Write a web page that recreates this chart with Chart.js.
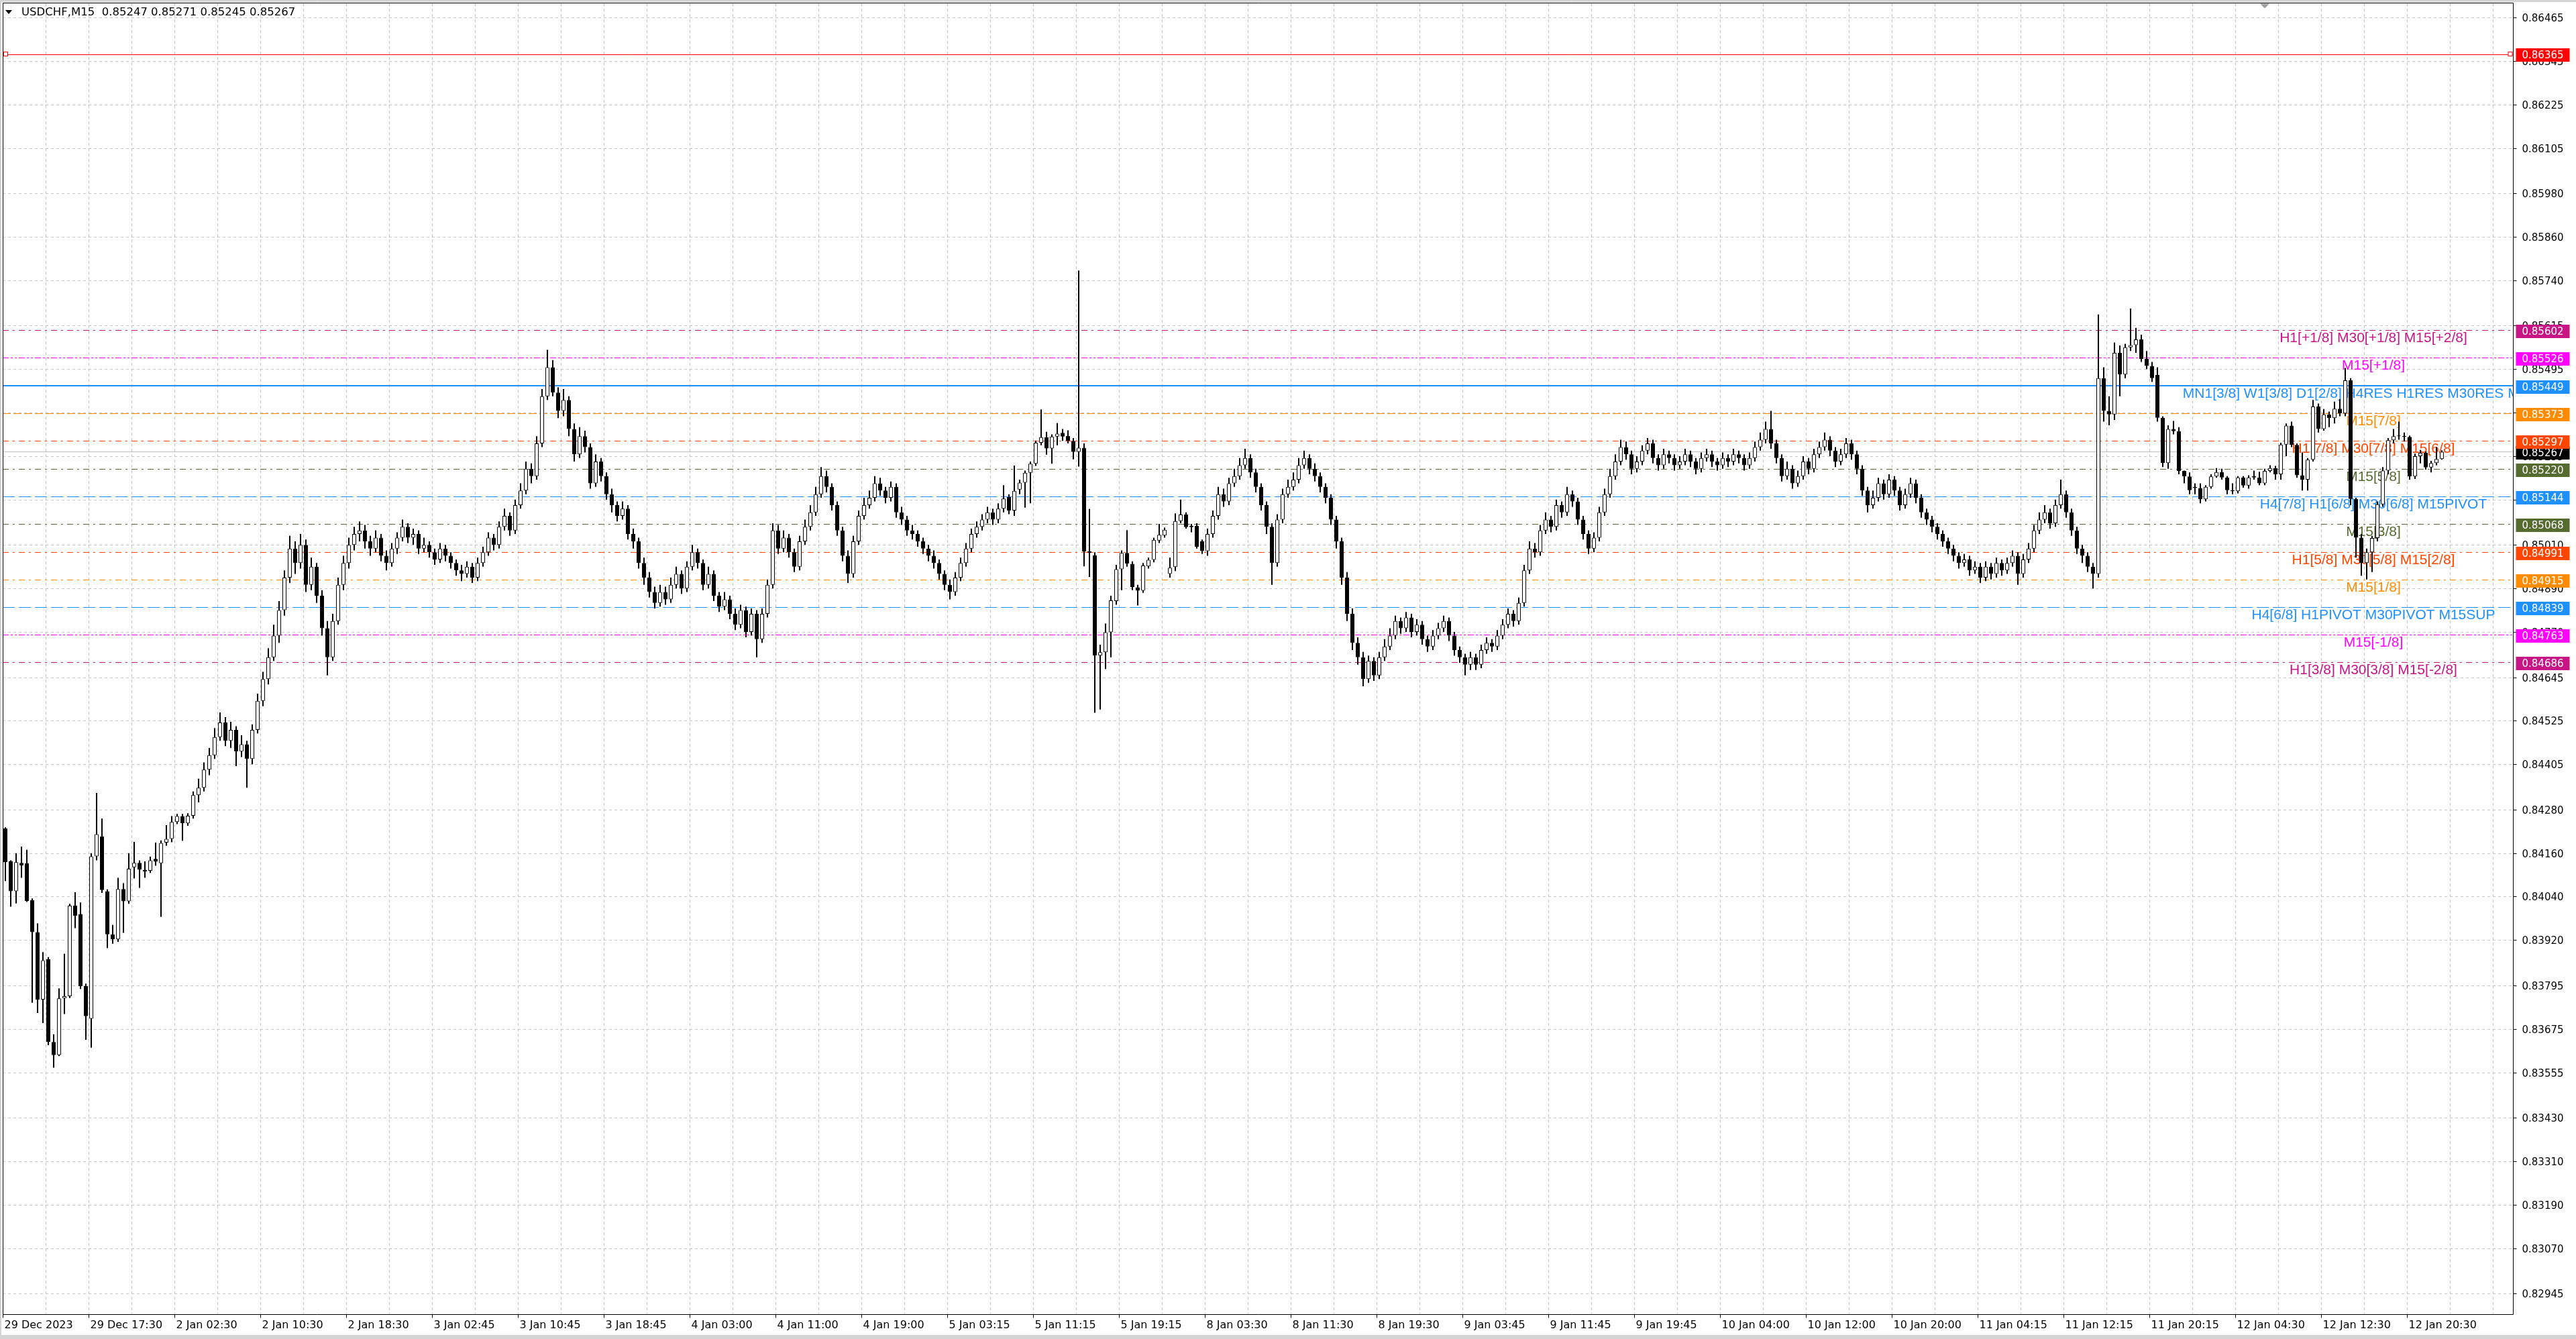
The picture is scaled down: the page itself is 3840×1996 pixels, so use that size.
<!DOCTYPE html>
<html>
<head>
<meta charset="utf-8">
<title>USDCHF,M15</title>
<script src="https://cdn.jsdelivr.net/npm/chart.js@4.4.1/dist/chart.umd.min.js"></script>
<style>
  html, body { margin: 0; padding: 0; background: #ffffff; }
  canvas { display: block; }
</style>
</head>
<body>
<canvas id="chart" width="3840" height="1996"></canvas>
<script>
// USDCHF M15 window, read off the picture and resampled to 30 min candles
// prices are in points (1 point = 0.00001)
var symbol = 'USDCHF,M15';

var open = [
  84228,84138,84055,84133,84132,84030,83942,83756,83867,83639,
  83603,83759,83765,84015,83992,83793,83703,84151,84206,84055,
  83936,83922,84061,84027,84121,84133,84114,84111,84144,84132,
  84189,84199,84246,84262,84242,84263,84320,84340,84390,84430,
  84480,84520,84470,84500,84440,84460,84420,84500,84580,84640,
  84700,84760,84830,84920,85000,84960,85010,84900,84950,84870,
  84780,84700,84800,84900,84960,85010,85040,85050,85020,85000,
  85030,84980,84960,85000,85030,85060,85030,85040,85000,85010,
  84990,84970,85000,84980,84960,84940,84930,84950,84920,84960,
  84990,85030,85010,85060,85090,85050,85120,85160,85220,85200,
  85290,85420,85500,85430,85380,85410,85330,85260,85310,85280,
  85180,85240,85200,85150,85120,85090,85110,85040,85020,84960,
  84920,84880,84850,84880,84860,84900,84930,84890,84950,84990,
  84960,84900,84930,84870,84840,84860,84820,84790,84830,84770,
  84820,84750,84820,84900,85050,85000,85030,84990,84950,85020,
  85060,85100,85150,85200,85170,85120,85050,84980,84930,85020,
  85090,85120,85140,85180,85160,85140,85170,85100,85080,85050,
  85040,85020,85000,84980,84960,84930,84900,84880,84920,84960,
  85000,85040,85060,85080,85100,85080,85110,85142,85105,85163,
  85182,85209,85234,85292,85307,85276,85309,85319,85311,85297,
  85267,85278,84992,84982,84705,84714,84769,84855,84943,84988,
  84958,84893,84884,84951,84969,85022,85036,84930,84949,85076,
  85094,85059,85063,85020,84993,85040,85090,85150,85130,85180,
  85200,85230,85250,85210,85170,85120,85060,84960,85080,85150,
  85170,85190,85230,85250,85220,85200,85170,85140,85080,85020,
  84920,84820,84740,84700,84640,84690,84650,84700,84730,84760,
  84800,84780,84810,84770,84790,84750,84730,84760,84780,84800,
  84760,84720,84700,84680,84700,84680,84720,84740,84730,84760,
  84790,84820,84800,84850,84940,85000,84990,85050,85080,85060,
  85120,85100,85150,85130,85080,85040,85000,85030,85100,85150,
  85200,85240,85280,85260,85220,85240,85270,85290,85250,85230,
  85260,85250,85230,85240,85260,85240,85220,85250,85260,85240,
  85230,85250,85240,85260,85250,85230,85250,85280,85300,85330,
  85290,85250,85200,85220,85180,85200,85240,85220,85260,85280,
  85300,85270,85240,85260,85290,85260,85220,85160,85120,85140,
  85180,85150,85190,85160,85120,85150,85180,85140,85100,85080,
  85060,85040,85020,85000,84980,84960,84970,84940,84950,84920,
  84950,84930,84960,84940,84960,84980,84930,84970,85000,85050,
  85080,85100,85070,85120,85150,85100,85050,85000,84980,84950,
  84930,85470,85380,85370,85540,85480,85555,85561,85577,85523,
  85504,85479,85361,85236,85330,85324,85214,85199,85170,85167,
  85136,85170,85199,85211,85196,85161,85158,85196,85174,85200,
  85196,85180,85214,85222,85205,85287,85339,85286,85202,85190,
  85245,85392,85330,85370,85360,85386,85373,85464,85137,85030,
  84960,84990,85029,85122,85215,85299,85310,85311,85308,85199,
  85255,85264,85224,85236,85247
];

var high = [
  84231,84140,84160,84178,84169,84035,83966,83887,83873,83660,
  83787,83882,84020,84052,84024,83800,84160,84326,84255,84060,
  83962,84092,84077,84160,84191,84140,84137,84150,84189,84195,
  84237,84262,84268,84268,84270,84330,84365,84410,84450,84505,
  84548,84535,84522,84510,84485,84470,84515,84600,84660,84725,
  84790,84855,84940,85035,85020,85040,85025,84975,84960,84885,
  84800,84820,84920,84980,85030,85060,85075,85065,85035,85050,
  85040,84995,85015,85045,85080,85070,85055,85050,85030,85020,
  85000,85015,85010,84990,84970,84955,84965,84960,84975,85005,
  85045,85040,85075,85110,85100,85135,85180,85240,85235,85310,
  85440,85548,85520,85445,85440,85420,85345,85335,85325,85290,
  85260,85250,85210,85165,85130,85130,85120,85055,85030,84975,
  84935,84895,84900,84895,84920,84950,84940,84965,85010,85000,
  84970,84950,84940,84880,84880,84870,84835,84845,84840,84835,
  84830,84835,84915,85070,85065,85050,85040,85000,85035,85080,
  85120,85170,85225,85215,85180,85130,85060,84995,85035,85105,
  85140,85160,85200,85195,85170,85185,85180,85115,85090,85065,
  85050,85030,85010,84995,84970,84940,84915,84935,84975,85015,
  85055,85075,85095,85115,85110,85125,85175,85150,85229,85190,
  85215,85240,85298,85384,85322,85315,85346,85330,85326,85305,
  85767,85290,85109,84990,84735,84793,84870,84955,84995,85051,
  84965,84900,84960,84975,85030,85068,85058,84975,85097,85135,
  85100,85068,85070,85025,85055,85105,85170,85165,85195,85220,
  85250,85275,85260,85220,85180,85130,85070,85095,85165,85190,
  85210,85250,85270,85260,85235,85210,85180,85150,85090,85030,
  84935,84835,84755,84715,84705,84700,84715,84750,84780,84815,
  84810,84825,84820,84805,84800,84760,84775,84795,84815,84810,
  84770,84730,84710,84715,84710,84735,84755,84750,84775,84805,
  84835,84830,84865,84955,85020,85015,85065,85100,85090,85135,
  85130,85170,85160,85140,85090,85050,85045,85115,85165,85220,
  85260,85300,85295,85270,85255,85285,85305,85300,85260,85275,
  85270,85260,85255,85275,85270,85250,85265,85275,85270,85250,
  85265,85260,85275,85270,85260,85265,85295,85320,85350,85380,
  85300,85260,85240,85230,85215,85255,85250,85275,85295,85320,
  85310,85280,85275,85305,85300,85270,85230,85170,85160,85195,
  85190,85205,85200,85170,85165,85195,85190,85150,85110,85090,
  85070,85050,85030,85010,84990,84985,84980,84965,84960,84965,
  84960,84975,84970,84975,84995,84990,84985,85015,85065,85100,
  85120,85110,85135,85190,85160,85110,85060,85010,84990,84960,
  85646,85500,85420,85568,85560,85565,85662,85609,85590,85545,
  85515,85500,85365,85340,85352,85335,85215,85210,85180,85180,
  85175,85205,85222,85220,85200,85180,85200,85200,85202,85215,
  85212,85220,85230,85228,85292,85345,85350,85290,85265,85250,
  85410,85400,85385,85378,85405,85412,85498,85470,85140,85040,
  85000,85035,85130,85225,85305,85330,85350,85320,85312,85262,
  85272,85268,85242,85280,85271
];

var low = [
  84083,84012,84021,84092,84025,83747,83719,83691,83630,83568,
  83600,83716,83760,83953,83785,83645,83623,84140,84050,83898,
  83910,83915,83940,84020,84090,84064,84092,84105,84125,83984,
  84180,84190,84240,84194,84235,84255,84300,84330,84375,84420,
  84470,84455,84450,84400,84425,84340,84405,84490,84565,84625,
  84690,84740,84815,84905,84930,84945,84880,84885,84850,84760,
  84650,84690,84790,84885,84945,84995,85020,85000,84980,84990,
  84965,84940,84950,84985,85020,85015,85010,84985,84990,84975,
  84955,84960,84965,84945,84925,84910,84920,84905,84910,84950,
  84980,84995,85000,85050,85035,85040,85110,85150,85180,85190,
  85280,85410,85420,85360,85365,85310,85240,85250,85265,85165,
  85170,85185,85135,85100,85075,85080,85025,85000,84945,84900,
  84865,84835,84840,84845,84850,84890,84875,84880,84940,84945,
  84885,84890,84855,84825,84830,84805,84775,84780,84755,84760,
  84700,84740,84810,84890,84985,84990,84975,84935,84940,85010,
  85050,85090,85140,85155,85105,85035,84965,84905,84920,85010,
  85080,85110,85130,85145,85125,85130,85085,85065,85035,85025,
  85005,84985,84965,84945,84915,84885,84860,84870,84910,84950,
  84990,85030,85050,85070,85065,85070,85100,85095,85090,85150,
  85113,85125,85228,85285,85259,85234,85285,85297,85290,85246,
  85226,84951,84922,84547,84556,84668,84700,84845,84885,84950,
  84885,84843,84878,84945,84962,85015,85030,84920,84938,85070,
  85055,85045,85000,84985,84980,85030,85080,85115,85120,85170,
  85190,85220,85195,85155,85105,85040,84900,84950,85070,85140,
  85160,85180,85220,85205,85185,85155,85125,85065,85000,84900,
  84800,84720,84680,84620,84630,84635,84640,84690,84720,84750,
  84765,84770,84755,84760,84735,84715,84720,84750,84770,84745,
  84705,84685,84650,84665,84665,84670,84710,84715,84720,84750,
  84780,84785,84790,84840,84930,84975,84980,85040,85045,85050,
  85085,85090,85115,85065,85025,84985,84990,85020,85090,85140,
  85190,85230,85245,85205,85210,85230,85260,85235,85215,85220,
  85235,85215,85220,85230,85225,85205,85210,85240,85225,85215,
  85220,85225,85230,85235,85215,85220,85240,85270,85290,85275,
  85235,85185,85190,85165,85170,85190,85205,85210,85250,85270,
  85255,85225,85230,85250,85245,85205,85145,85100,85110,85130,
  85135,85140,85145,85105,85110,85140,85125,85085,85065,85045,
  85025,85005,84985,84965,84945,84950,84925,84930,84905,84910,
  84915,84920,84925,84930,84950,84900,84920,84960,84990,85040,
  85070,85055,85060,85110,85085,85035,84985,84960,84935,84890,
  84920,85350,85340,85355,85420,85470,85545,85540,85515,85495,
  85460,85350,85225,85220,85315,85205,85180,85150,85150,85125,
  85130,85165,85195,85190,85150,85150,85152,85168,85165,85190,
  85175,85175,85210,85190,85190,85255,85280,85195,85160,85160,
  85240,85320,85325,85335,85345,85365,85365,85120,84975,84925,
  84915,84935,85020,85115,85205,85290,85300,85295,85190,85192,
  85235,85218,85210,85230,85245
];

var close = [
  84135,84055,84135,84126,84028,83942,83756,83864,83639,83603,
  83759,83765,84015,83987,83793,83710,84151,84212,84058,83936,
  83922,84061,84027,84117,84133,84114,84109,84140,84136,84188,
  84199,84246,84262,84242,84263,84320,84340,84390,84430,84480,
  84520,84470,84500,84440,84460,84420,84500,84580,84640,84700,
  84760,84830,84920,85000,84960,85010,84900,84950,84870,84780,
  84700,84800,84900,84960,85010,85040,85050,85020,85000,85030,
  84980,84960,85000,85030,85060,85030,85040,85000,85010,84990,
  84970,85000,84980,84960,84940,84930,84950,84920,84960,84990,
  85030,85010,85060,85090,85050,85120,85160,85220,85200,85290,
  85420,85500,85430,85380,85410,85330,85260,85310,85280,85180,
  85240,85200,85150,85120,85090,85110,85040,85020,84960,84920,
  84880,84850,84880,84860,84900,84930,84890,84950,84990,84960,
  84900,84930,84870,84840,84860,84820,84790,84830,84770,84820,
  84750,84820,84900,85050,85000,85030,84990,84950,85020,85060,
  85100,85150,85200,85170,85120,85050,84980,84930,85020,85090,
  85120,85140,85180,85160,85140,85170,85100,85080,85050,85040,
  85020,85000,84980,84960,84930,84900,84880,84920,84960,85000,
  85040,85060,85080,85100,85080,85110,85138,85105,85159,85182,
  85209,85234,85292,85307,85276,85309,85317,85309,85297,85267,
  85278,84992,84988,84705,84714,84769,84857,84943,84988,84959,
  84894,84884,84953,84969,85024,85038,85052,84947,85076,85094,
  85059,85063,85005,84993,85040,85090,85150,85130,85180,85200,
  85230,85250,85210,85170,85120,85060,84960,85080,85150,85170,
  85190,85230,85250,85220,85200,85170,85140,85080,85020,84920,
  84820,84740,84700,84640,84690,84650,84700,84730,84760,84800,
  84780,84810,84770,84790,84750,84730,84760,84780,84800,84760,
  84720,84700,84680,84700,84680,84720,84740,84730,84760,84790,
  84820,84800,84850,84940,85000,84990,85050,85080,85060,85120,
  85100,85150,85130,85080,85040,85000,85030,85100,85150,85200,
  85240,85280,85260,85220,85240,85270,85290,85250,85230,85260,
  85250,85230,85240,85260,85240,85220,85250,85260,85240,85230,
  85250,85240,85260,85250,85230,85250,85280,85300,85330,85290,
  85250,85200,85220,85180,85200,85240,85220,85260,85280,85300,
  85270,85240,85260,85290,85260,85220,85160,85120,85140,85180,
  85150,85190,85160,85120,85150,85180,85140,85100,85080,85060,
  85040,85020,85000,84980,84960,84970,84940,84950,84920,84950,
  84930,84960,84940,84960,84980,84930,84970,85000,85050,85080,
  85100,85070,85120,85150,85100,85050,85000,84980,84950,84930,
  85470,85380,85370,85540,85480,85555,85561,85577,85523,85504,
  85470,85361,85236,85330,85324,85214,85199,85161,85167,85136,
  85170,85199,85211,85196,85161,85158,85196,85174,85196,85196,
  85180,85214,85222,85205,85287,85339,85286,85202,85190,85245,
  85392,85330,85370,85360,85386,85373,85464,85137,85030,84960,
  84990,85029,85122,85215,85299,85310,85311,85308,85199,85255,
  85264,85224,85236,85247,85267
];

// time axis: one label every 16 candles (8 hours)
var timeLabels = [
  '29 Dec 2023', '29 Dec 17:30', '2 Jan 02:30', '2 Jan 10:30', '2 Jan 18:30',
  '3 Jan 02:45', '3 Jan 10:45', '3 Jan 18:45', '4 Jan 03:00', '4 Jan 11:00',
  '4 Jan 19:00', '5 Jan 03:15', '5 Jan 11:15', '5 Jan 19:15', '8 Jan 03:30',
  '8 Jan 11:30', '8 Jan 19:30', '9 Jan 03:45', '9 Jan 11:45', '9 Jan 19:45',
  '10 Jan 04:00', '10 Jan 12:00', '10 Jan 20:00', '11 Jan 04:15', '11 Jan 12:15',
  '11 Jan 20:15', '12 Jan 04:30', '12 Jan 12:30', '12 Jan 20:30'
];

var priceTicks = [
  0.86465, 0.86345, 0.86225, 0.86105, 0.85980, 0.85860, 0.85740, 0.85615,
  0.85495, 0.85375, 0.85255, 0.85135, 0.85010, 0.84890, 0.84770, 0.84645,
  0.84525, 0.84405, 0.84280, 0.84160, 0.84040, 0.83920, 0.83795, 0.83675,
  0.83555, 0.83430, 0.83310, 0.83190, 0.83070, 0.82945
];

// murrey math levels and their captions
var levelPrices = [0.85602, 0.85526, 0.85449, 0.85373, 0.85297, 0.85220, 0.85144,
                   0.85068, 0.84991, 0.84915, 0.84839, 0.84763, 0.84686];
var levelTexts = [
  'H1[+1/8] M30[+1/8] M15[+2/8]',
  'M15[+1/8]',
  'MN1[3/8] W1[3/8] D1[2/8] H4RES H1RES M30RES M15RES',
  'M15[7/8]',
  'H1[7/8] M30[7/8] M15[6/8]',
  'M15[5/8]',
  'H4[7/8] H1[6/8] M30[6/8] M15PIVOT',
  'M15[3/8]',
  'H1[5/8] M30[5/8] M15[2/8]',
  'M15[1/8]',
  'H4[6/8] H1PIVOT M30PIVOT M15SUP',
  'M15[-1/8]',
  'H1[3/8] M30[3/8] M15[-2/8]'
];
var alertPrice = 0.86365;

// styles for the levels (kept apart from the values)
var DASHDOT = [9, 6, 3, 6], DASHDOTDOT = [9, 3, 3, 3, 3, 3], DASH = [18, 6];
var levelStyles = [
  { color: '#C71585', dash: DASHDOT, width: 1 },
  { color: '#FF00FF', dash: DASHDOTDOT, width: 1 },
  { color: '#1E90FF', dash: [], width: 2 },
  { color: '#FF8C00', dash: [12, 4], width: 1 },
  { color: '#FF4500', dash: DASHDOT, width: 1 },
  { color: '#556B2F', dash: DASHDOT, width: 1 },
  { color: '#1E90FF', dash: DASH, width: 1 },
  { color: '#556B2F', dash: DASHDOT, width: 1 },
  { color: '#FF4500', dash: DASHDOT, width: 1 },
  { color: '#FF8C00', dash: DASHDOT, width: 1 },
  { color: '#1E90FF', dash: DASH, width: 1 },
  { color: '#FF00FF', dash: DASHDOTDOT, width: 1 },
  { color: '#C71585', dash: DASHDOT, width: 1 }
];

var SLOTS = 468;          // 455 candles + empty shift space on the right
var PER_LABEL = 16;
var PER_GRID = 8;
var AXIS_FONT = '15px "DejaVu Sans", Tahoma, sans-serif';
var TIME_FONT = '16px "DejaVu Sans", Tahoma, sans-serif';
var TITLE_FONT = '16.5px "DejaVu Sans", Tahoma, sans-serif';
var LEVEL_FONT = '21px "Liberation Sans", Arial, sans-serif';

function fmt(p) { return p.toFixed(5); }

var slotLabels = [];
for (var s = 0; s < SLOTS; s++) slotLabels.push(s);

var bodies = open.map(function (o, i) { return [o / 1e5, close[i] / 1e5]; });
var wicks = low.map(function (l, i) { return [l / 1e5, high[i] / 1e5]; });
var bodyColors = open.map(function (o, i) { return close[i] >= o ? '#ffffff' : '#000000'; });

var last = close.length - 1;
var bidPrice = close[last] / 1e5;

function hline(ctx, x0, x1, y, color, width, dash) {
  ctx.save();
  ctx.strokeStyle = color;
  ctx.lineWidth = width;
  ctx.setLineDash(dash);
  var yy = width % 2 ? Math.round(y) + 0.5 : Math.round(y);
  ctx.beginPath();
  ctx.moveTo(x0, yy);
  ctx.lineTo(x1, yy);
  ctx.stroke();
  ctx.restore();
}

var mtDecor = {
  id: 'mtDecor',
  beforeDraw: function (chart) {
    var ctx = chart.ctx, a = chart.chartArea, xs = chart.scales.x, ys = chart.scales.y;
    ctx.save();
    ctx.fillStyle = '#ffffff';
    ctx.fillRect(0, 0, chart.width, chart.height);
    ctx.fillStyle = '#d4d4d4';
    ctx.fillRect(0, 0, chart.width, 3);
    ctx.fillRect(0, chart.height - 6, chart.width, 6);
    ctx.fillRect(0, 0, 2, chart.height);

    // dotted grid
    ctx.strokeStyle = '#c4c4c4';
    ctx.lineWidth = 1;
    ctx.setLineDash([4, 4]);
    var right = a.right - 2;
    priceTicks.forEach(function (p) {
      var y = Math.round(ys.getPixelForValue(p)) + 0.5;
      ctx.beginPath(); ctx.moveTo(a.left, y); ctx.lineTo(right, y); ctx.stroke();
    });
    for (var g = PER_GRID; g < SLOTS; g += PER_GRID) {
      var x = Math.round(xs.getPixelForValue(g) - 4) + 0.5;
      ctx.beginPath(); ctx.moveTo(x, a.top); ctx.lineTo(x, a.bottom); ctx.stroke();
    }
    ctx.restore();
  },
  beforeDatasetsDraw: function (chart) {
    var ctx = chart.ctx, a = chart.chartArea, ys = chart.scales.y;
    var right = a.right - 2;
    ctx.save();
    ctx.beginPath();
    ctx.rect(a.left, a.top, right - a.left, a.bottom - a.top);
    ctx.clip();

    // bid line
    hline(ctx, a.left, right, ys.getPixelForValue(bidPrice), '#c0c0c0', 1, []);

    // alert line with end squares
    var ay = Math.round(ys.getPixelForValue(alertPrice)) + 0.5;
    hline(ctx, a.left, right, ay, '#ff0000', 1, []);
    ctx.strokeStyle = '#ff0000';
    ctx.fillStyle = '#ffffff';
    ctx.fillRect(a.left + 1.5, ay - 3, 6, 6);
    ctx.strokeRect(a.left + 1.5, ay - 3, 6, 6);
    ctx.fillRect(right - 7, ay - 3, 6, 6);
    ctx.strokeRect(right - 7, ay - 3, 6, 6);

    // level lines and captions
    ctx.font = LEVEL_FONT;
    ctx.textAlign = 'center';
    ctx.textBaseline = 'top';
    levelPrices.forEach(function (p, i) {
      var st = levelStyles[i];
      var y = ys.getPixelForValue(p);
      hline(ctx, a.left, right, y, st.color, st.width, st.dash);
      ctx.fillStyle = st.color;
      ctx.fillText(levelTexts[i], a.right - 210, Math.round(y) + 2);
    });
    ctx.restore();
  },
  afterDraw: function (chart) {
    var ctx = chart.ctx, a = chart.chartArea, xs = chart.scales.x, ys = chart.scales.y;
    var fl = Math.round(a.left) + 0.5, fr = Math.round(a.right) - 1.5;
    var ft = Math.round(a.top) - 0.5, fb = Math.round(a.bottom) + 0.5;
    ctx.save();

    // frame
    ctx.strokeStyle = '#000000';
    ctx.lineWidth = 1;
    ctx.beginPath();
    ctx.moveTo(fl, ft); ctx.lineTo(fr, ft); ctx.lineTo(fr, fb); ctx.lineTo(fl, fb); ctx.closePath();
    ctx.stroke();

    // shift marker
    ctx.fillStyle = '#a0a0a0';
    var mx = xs.getPixelForValue(SLOTS - 47);
    ctx.beginPath(); ctx.moveTo(mx - 7, ft + 1); ctx.lineTo(mx + 7, ft + 1); ctx.lineTo(mx, ft + 8); ctx.closePath(); ctx.fill();

    // price axis
    ctx.font = AXIS_FONT;
    ctx.textAlign = 'left';
    ctx.textBaseline = 'middle';
    ctx.fillStyle = '#000000';
    priceTicks.forEach(function (p) {
      var y = Math.round(ys.getPixelForValue(p)) + 0.5;
      ctx.beginPath(); ctx.moveTo(fr, y); ctx.lineTo(fr + 5, y); ctx.stroke();
      ctx.fillText(fmt(p), fr + 13, y + 2);
    });

    // time axis
    ctx.font = TIME_FONT;
    timeLabels.forEach(function (t, k) {
      var x = Math.round(xs.getPixelForValue(k * PER_LABEL) - 4) + 0.5;
      ctx.beginPath(); ctx.moveTo(x, fb); ctx.lineTo(x, fb + 5); ctx.stroke();
      ctx.fillText(t, x + 2, fb + 16);
    });

    // coloured price boxes on the axis
    function box(p, color) {
      var y = Math.round(ys.getPixelForValue(p));
      ctx.fillStyle = color;
      ctx.fillRect(fr + 4, y - 8, 80, 20);
      ctx.fillStyle = '#ffffff';
      ctx.font = AXIS_FONT;
      ctx.fillText(fmt(p), fr + 13, y + 3);
    }
    box(bidPrice, '#000000');
    levelPrices.forEach(function (p, i) { box(p, levelStyles[i].color); });
    box(alertPrice, '#ff0000');

    // title
    ctx.fillStyle = '#000000';
    ctx.beginPath(); ctx.moveTo(8, 15); ctx.lineTo(18, 15); ctx.lineTo(13, 21); ctx.closePath(); ctx.fill();
    ctx.font = TITLE_FONT;
    ctx.textBaseline = 'middle';
    var ohlc = [open[last], high[last], low[last], close[last]].map(function (v) { return fmt(v / 1e5); });
    ctx.fillText(symbol + '  ' + ohlc.join(' '), 32, 19);
    ctx.restore();
  }
};

var chart = new Chart(document.getElementById('chart'), {
  type: 'bar',
  data: {
    labels: slotLabels,
    datasets: [
      {
        label: 'body',
        data: bodies,
        grouped: false,
        barThickness: 6,
        backgroundColor: bodyColors,
        borderColor: '#000000',
        borderWidth: 1,
        borderSkipped: false,
        minBarLength: 1,
        inflateAmount: 0,
        order: 0
      },
      {
        label: 'wick',
        data: wicks,
        grouped: false,
        barThickness: 2,
        backgroundColor: '#000000',
        borderWidth: 0,
        inflateAmount: 0,
        order: 1
      }
    ]
  },
  options: {
    responsive: false,
    animation: false,
    devicePixelRatio: 1,
    events: [],
    layout: { padding: { left: 4, top: 5, right: 92, bottom: 37 } },
    scales: {
      x: { type: 'category', offset: true, display: false },
      y: { type: 'linear', min: 0.82888, max: 0.86504, display: false }
    },
    plugins: { legend: { display: false }, tooltip: { enabled: false } }
  },
  plugins: [mtDecor]
});
</script>
</body>
</html>
